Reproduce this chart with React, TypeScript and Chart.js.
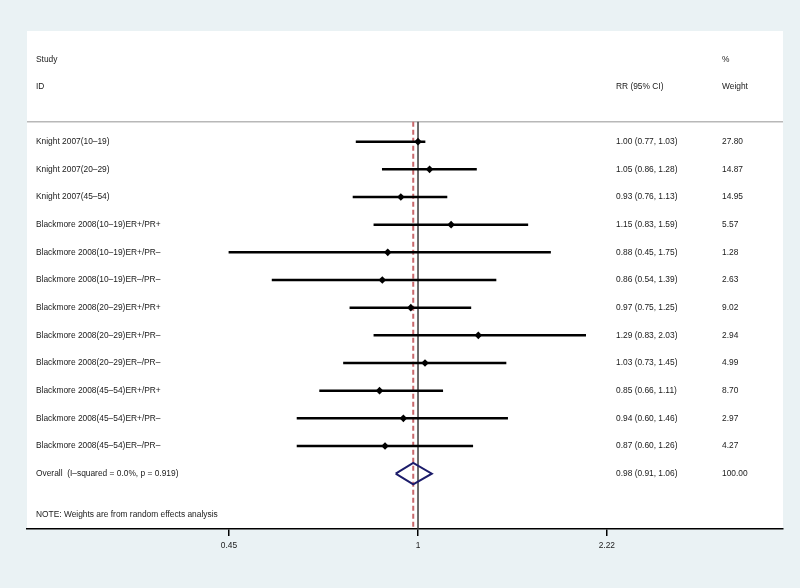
import React, { useEffect, useRef } from "react";
import { Chart, registerables } from "chart.js";

Chart.register(...registerables);

const studies = [
  "Knight 2007(10–19)",
  "Knight 2007(20–29)",
  "Knight 2007(45–54)",
  "Blackmore 2008(10–19)ER+/PR+",
  "Blackmore 2008(10–19)ER+/PR–",
  "Blackmore 2008(10–19)ER–/PR–",
  "Blackmore 2008(20–29)ER+/PR+",
  "Blackmore 2008(20–29)ER+/PR–",
  "Blackmore 2008(20–29)ER–/PR–",
  "Blackmore 2008(45–54)ER+/PR+",
  "Blackmore 2008(45–54)ER+/PR–",
  "Blackmore 2008(45–54)ER–/PR–",
];
const rr = [1.0, 1.05, 0.93, 1.15, 0.88, 0.86, 0.97, 1.29, 1.03, 0.85, 0.94, 0.87];
const ciLow = [0.77, 0.86, 0.76, 0.83, 0.45, 0.54, 0.75, 0.83, 0.73, 0.66, 0.6, 0.6];
const ciHigh = [1.03, 1.28, 1.13, 1.59, 1.75, 1.39, 1.25, 2.03, 1.45, 1.11, 1.46, 1.26];
const weights = ["27.80", "14.87", "14.95", "5.57", "1.28", "2.63", "9.02", "2.94", "4.99", "8.70", "2.97", "4.27"];

const overallLabel = "Overall  (I–squared = 0.0%, p = 0.919)";
const overallRR = 0.98;
const overallLow = 0.91;
const overallHigh = 1.06;
const overallWeight = "100.00";
const noteText = "NOTE: Weights are from random effects analysis";

const tickValues = [0.45, 1, 2.22];
const tickLabels = ["0.45", "1", "2.22"];
const nullValue = 1;

const FONT = '8.4px "Liberation Sans", Arial, Helvetica, sans-serif';
const TEXT_COLOR = "#1a1a1a";
const BG = "#eaf2f4";

function fmt(v: number) {
  return v.toFixed(2);
}

export default function App() {
  const ref = useRef<HTMLCanvasElement | null>(null);

  useEffect(() => {
    document.body.style.margin = "0";
    const canvas = ref.current;
    if (!canvas) return;

    const nRows = studies.length;
    const overallRow = nRows;
    const headerLineRow = -0.72;
    const bottomRow = 14;

    const bgPlugin = {
      id: "bg",
      beforeDraw(chart: any) {
        const { ctx, chartArea } = chart;
        ctx.save();
        ctx.fillStyle = BG;
        ctx.fillRect(0, 0, chart.width, chart.height);
        ctx.fillStyle = "#fff";
        ctx.fillRect(chartArea.left, chartArea.top, chartArea.right - chartArea.left, chartArea.bottom - chartArea.top);
        ctx.restore();
      },
      beforeDatasetsDraw(chart: any) {
        const { ctx, chartArea, scales } = chart;
        const y = scales.y.getPixelForValue(headerLineRow);
        ctx.save();
        ctx.strokeStyle = "#b8b8b8";
        ctx.lineWidth = 1.5;
        ctx.beginPath();
        ctx.moveTo(chartArea.left, y);
        ctx.lineTo(chartArea.right, y);
        ctx.stroke();
        ctx.restore();
      },
    };

    const textPlugin = {
      id: "texts",
      afterDatasetsDraw(chart: any) {
        const { ctx, chartArea, scales } = chart;
        const ys = scales.y;
        const labelX = chartArea.left + 9;
        const ciX = chartArea.left + 589;
        const wX = chartArea.left + 695;
        ctx.save();
        ctx.font = FONT;
        ctx.fillStyle = TEXT_COLOR;
        ctx.textBaseline = "middle";
        ctx.textAlign = "left";
        ctx.fillText("Study", labelX, ys.getPixelForValue(-2.96));
        ctx.fillText("ID", labelX, ys.getPixelForValue(-1.98));
        ctx.fillText("RR (95% CI)", ciX, ys.getPixelForValue(-1.98));
        ctx.fillText("%", wX, ys.getPixelForValue(-2.96));
        ctx.fillText("Weight", wX, ys.getPixelForValue(-1.98));
        studies.forEach((s, i) => {
          const y = ys.getPixelForValue(i);
          ctx.fillText(s, labelX, y);
          ctx.fillText(`${fmt(rr[i])} (${fmt(ciLow[i])}, ${fmt(ciHigh[i])})`, ciX, y);
          ctx.fillText(weights[i], wX, y);
        });
        const oy = ys.getPixelForValue(overallRow);
        ctx.fillText(overallLabel, labelX, oy);
        ctx.fillText(`${fmt(overallRR)} (${fmt(overallLow)}, ${fmt(overallHigh)})`, ciX, oy);
        ctx.fillText(overallWeight, wX, oy);
        ctx.fillText(noteText, labelX, ys.getPixelForValue(overallRow + 1.5));
        ctx.restore();
      },
    };

    const dh = 0.39;
    const chart = new Chart(canvas, {
      data: {
        datasets: [
          {
            type: "scatter",
            label: "null",
            data: [
              { x: nullValue, y: headerLineRow },
              { x: nullValue, y: bottomRow },
            ],
            showLine: true,
            borderColor: "#3a3a3a",
            borderWidth: 1.5,
            pointRadius: 0,
            order: 5,
          } as any,
          {
            type: "scatter",
            label: "overallLine",
            data: [
              { x: overallRR, y: headerLineRow },
              { x: overallRR, y: bottomRow },
            ],
            showLine: true,
            borderColor: "#c8686c",
            borderDash: [5, 3],
            borderWidth: 2,
            pointRadius: 0,
            order: 4,
          } as any,
          {
            type: "bar",
            label: "CI",
            indexAxis: "y",
            data: studies.map((_, i) => ({ x: [ciLow[i], ciHigh[i]], y: i })),
            backgroundColor: "#000",
            borderWidth: 0,
            barThickness: 1.8,
            order: 3,
          } as any,
          {
            type: "scatter",
            label: "RR",
            data: studies.map((_, i) => ({ x: rr[i], y: i })),
            pointStyle: "rectRot",
            pointRadius: 3.8,
            backgroundColor: "#000",
            borderColor: "#000",
            borderWidth: 0,
            order: 2,
          } as any,
          {
            type: "scatter",
            label: "overall",
            data: [
              { x: overallLow, y: overallRow },
              { x: overallRR, y: overallRow - dh },
              { x: overallHigh, y: overallRow },
              { x: overallRR, y: overallRow + dh },
              { x: overallLow, y: overallRow },
            ],
            showLine: true,
            borderColor: "#1c1c6a",
            borderWidth: 2,
            pointRadius: 0,
            tension: 0,
            order: 1,
          } as any,
        ],
      },
      options: {
        responsive: false,
        animation: false,
        devicePixelRatio: 1,
        layout: { padding: { top: 31, left: 27, right: 17, bottom: 0 } },
        plugins: {
          legend: { display: false },
          tooltip: { enabled: false },
        },
        scales: {
          x: {
            type: "logarithmic",
            min: 0.1918,
            max: 4.671,
            bounds: "data",
            offset: false,
            afterBuildTicks: (scale: any) => {
              scale.ticks = tickValues.map((v) => ({ value: v }));
            },
            afterFit: (scale: any) => {
              scale.height = 59;
            },
            border: { display: true, color: "#000", width: 1.5 },
            grid: {
              display: true,
              offset: false,
              drawOnChartArea: false,
              drawTicks: true,
              tickLength: 7,
              color: "#000",
              lineWidth: 1.5,
            },
            ticks: {
              autoSkip: false,
              maxRotation: 0,
              padding: 5,
              color: TEXT_COLOR,
              font: { family: '"Liberation Sans", Arial, sans-serif', size: 8.4 },
              callback: (value: any) => {
                const idx = tickValues.findIndex((t) => Math.abs(t - Number(value)) < 1e-9);
                return idx >= 0 ? tickLabels[idx] : "";
              },
            },
          },
          y: {
            type: "linear",
            min: -4,
            max: 14,
            reverse: true,
            offset: false,
            grid: { offset: false },
            display: false,
          },
        },
      } as any,
      plugins: [bgPlugin, textPlugin],
    } as any);

    return () => chart.destroy();
  }, []);

  return (
    <div style={{ position: "absolute", left: 0, top: 0, width: 800, height: 588 }}>
      <canvas ref={ref} width={800} height={588} />
    </div>
  );
}
